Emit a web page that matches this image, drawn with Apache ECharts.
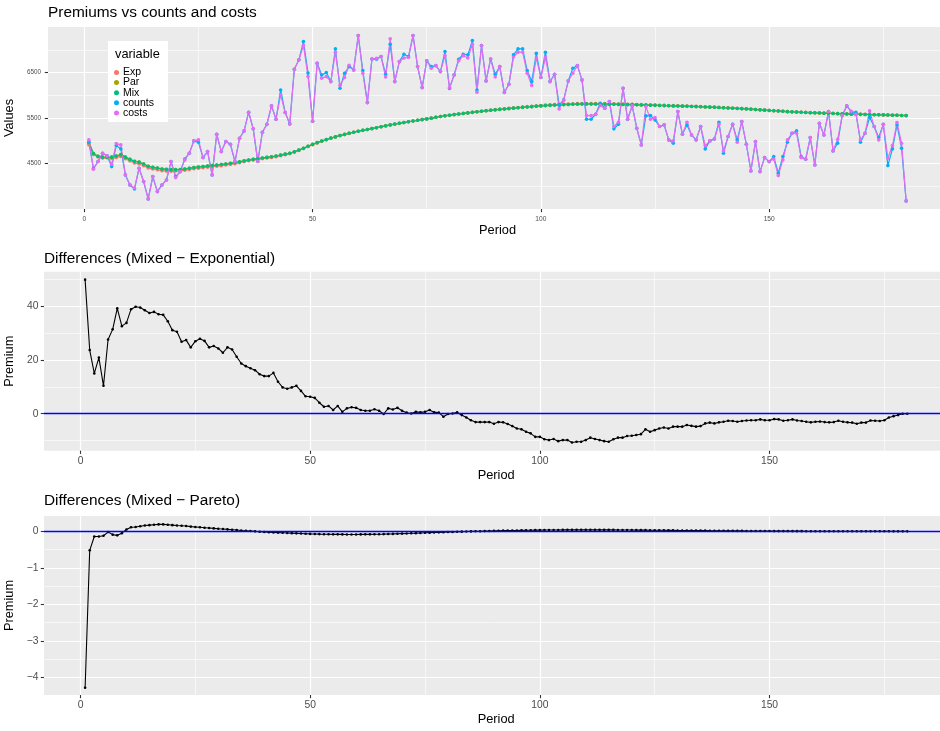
<!DOCTYPE html>
<html><head><meta charset="utf-8">
<script src="https://cdn.jsdelivr.net/npm/echarts@6/dist/echarts.min.js"></script>
<style>html,body{margin:0;padding:0;background:#fff;}#c{width:940px;height:731px;}</style>
</head><body><div id="c"></div>
<script>
const periods = Array.from({length: 180}, (_, i) => i + 1);
const xTicks = [0, 50, 100, 150];
const yTicksTop = [4500, 5500, 6500];
const yTicksMid = [0, 20, 40];
const yTicksBot = [-4, -3, -2, -1, 0];
const refLineValue = 0;
const legendNames = ['Exp', 'Par', 'Mix', 'counts', 'costs'];

const counts = [
4967,4390,4543,4726,4667,4432,4894,4821,4249,4029,
3940,4396,4103,3722,4212,3882,4029,4139,4543,4212,
4322,4600,4726,4997,4967,4630,4762,4249,5143,4762,
4982,4923,4543,5055,5217,5627,5261,4543,5187,5363,
5766,5473,6117,5620,5370,6572,6778,7181,6490,5430,
6704,6447,6498,6300,7019,6153,6484,6630,6557,7313,
6542,5838,6798,6791,6850,6462,7122,6300,6740,6901,
6850,7313,6630,6168,6755,6630,6652,6520,6960,6150,
6447,6791,6901,6887,7202,6117,7093,6315,6798,6462,
6630,6059,6241,6887,7019,7019,6542,6300,6920,6389,
6946,6300,6462,5787,5897,6315,6594,6652,6337,5473,
5473,5583,5824,5715,5861,5261,5363,6153,5473,5766,
5275,4909,5547,5554,5458,5312,5348,5019,4945,5642,
5143,5348,5128,5019,5312,4821,4997,5040,5407,4726,
5092,5363,5019,5422,4923,4337,4982,4322,4630,4542,
4652,4286,4652,4967,5165,5217,4652,4593,5070,4469,
5385,5128,5642,4777,4945,5554,5766,5627,5627,4967,
5165,5510,5312,5070,5363,4454,4821,5348,4835,3678];

const costs = [
5019,4375,4543,4726,4667,4484,4938,4909,4249,4029,
3960,4396,4103,3722,4212,3882,4029,4139,4543,4190,
4322,4579,4726,4997,5019,4630,4762,4249,5143,4762,
4982,4923,4543,5055,5217,5627,5261,4543,5187,5363,
5766,5473,6008,5620,5370,6572,6778,7093,6410,5430,
6704,6374,6410,6300,6946,6220,6390,6660,6557,7313,
6484,5838,6798,6810,6850,6400,7240,6300,6740,6820,
6830,7313,6630,6168,6755,6594,6652,6520,6870,6168,
6447,6760,6870,6820,7120,6066,7093,6315,6798,6400,
6630,6059,6241,6840,6946,6946,6484,6213,6820,6389,
6829,6300,6462,5700,5897,6315,6484,6652,6337,5554,
5554,5583,5773,5715,5861,5312,5407,6153,5473,5766,
5275,4909,5751,5473,5510,5312,5348,5019,4997,5642,
5143,5407,5128,5019,5312,4894,4997,5040,5363,4777,
5092,5363,4967,5422,4923,4337,4982,4322,4630,4542,
4600,4234,4579,5019,5165,5165,4630,4593,5070,4469,
5385,5128,5642,4777,5033,5554,5766,5650,5583,5019,
5165,5656,5312,5019,5363,4616,4894,5399,4945,3678];

const mixPrem = [
4960,4720,4660,4640,4635,4640,4665,4695,4640,4590,
4550,4530,4490,4440,4415,4400,4380,4370,4365,4365,
4368,4380,4395,4412,4424,4434,4444,4454,4465,4477,
4490,4505,4520,4538,4558,4578,4592,4606,4620,4634,
4648,4665,4685,4705,4725,4758,4795,4835,4878,4920,
4958,4992,5025,5058,5085,5115,5140,5164,5188,5210,
5230,5248,5267,5287,5308,5328,5348,5366,5384,5400,
5417,5433,5450,5465,5480,5497,5515,5533,5548,5562,
5575,5588,5600,5612,5624,5636,5647,5658,5669,5679,
5689,5698,5707,5716,5725,5734,5742,5750,5758,5766,
5772,5778,5784,5789,5794,5798,5802,5805,5807,5808,
5808,5807,5806,5805,5803,5801,5799,5797,5795,5793,
5790,5787,5784,5781,5778,5775,5772,5769,5766,5763,
5760,5757,5754,5751,5747,5743,5739,5735,5730,5725,
5720,5715,5710,5705,5700,5693,5686,5679,5672,5665,
5660,5654,5647,5640,5635,5630,5625,5621,5617,5613,
5610,5606,5603,5599,5596,5592,5589,5585,5583,5580,
5578,5575,5573,5570,5568,5565,5562,5559,5556,5553];

const parPrem = [
4964,4721,4660,4640,4635,4640,4665,4695,4640,4590,
4550,4530,4490,4440,4415,4400,4380,4370,4365,4365,
4368,4380,4395,4412,4424,4434,4444,4454,4465,4477,
4490,4505,4520,4538,4558,4578,4592,4606,4620,4634,
4648,4665,4685,4705,4725,4758,4795,4835,4878,4920,
4958,4992,5025,5058,5085,5115,5140,5164,5188,5210,
5230,5248,5267,5287,5308,5328,5348,5366,5384,5400,
5417,5433,5450,5465,5480,5497,5515,5533,5548,5562,
5575,5588,5600,5612,5624,5636,5647,5658,5669,5679,
5689,5698,5707,5716,5725,5734,5742,5750,5758,5766,
5772,5778,5784,5789,5794,5798,5802,5805,5807,5808,
5808,5807,5806,5805,5803,5801,5799,5797,5795,5793,
5790,5787,5784,5781,5778,5775,5772,5769,5766,5763,
5760,5757,5754,5751,5747,5743,5739,5735,5730,5725,
5720,5715,5710,5705,5700,5693,5686,5679,5672,5665,
5660,5654,5647,5640,5635,5630,5625,5621,5617,5613,
5610,5606,5603,5599,5596,5592,5589,5585,5583,5580,
5578,5575,5573,5570,5568,5565,5562,5559,5556,5553];

const expPrem = [
4910,4696,4645,4619,4625,4612,4634,4656,4607,4556,
4511,4490,4451,4402,4378,4362,4343,4333,4331,4334,
4338,4353,4368,4387,4397,4406,4417,4429,4440,4453,
4467,4480,4496,4517,4539,4560,4575,4590,4605,4620,
4634,4650,4673,4695,4716,4748,4785,4827,4872,4914,
4952,4988,5022,5055,5084,5112,5139,5162,5186,5208,
5229,5247,5266,5285,5307,5328,5346,5364,5382,5399,
5417,5433,5449,5465,5479,5496,5515,5533,5549,5562,
5575,5588,5601,5613,5626,5639,5650,5661,5672,5683,
5692,5701,5711,5721,5731,5740,5749,5757,5767,5775,
5782,5788,5793,5799,5804,5808,5813,5815,5817,5818,
5817,5816,5816,5815,5813,5811,5808,5806,5803,5801,
5798,5795,5790,5788,5784,5781,5777,5775,5771,5768,
5765,5761,5759,5756,5752,5747,5742,5739,5733,5728,
5723,5718,5713,5708,5703,5695,5688,5681,5674,5667,
5662,5656,5650,5642,5637,5633,5628,5624,5620,5616,
5613,5609,5606,5602,5599,5595,5592,5588,5587,5583,
5581,5578,5576,5573,5570,5566,5563,5560,5556,5553];

const diffExp = [
49.9,23.7,15.0,20.9,10.4,27.6,31.4,39.2,32.6,33.8,
38.9,39.8,39.5,38.5,37.5,37.9,37.0,36.8,34.4,31.1,
30.5,26.8,27.4,24.7,27.0,27.9,27.1,24.7,25.2,24.3,
22.7,24.7,23.9,21.2,18.7,17.7,16.9,16.2,14.7,14.0,
14.0,15.2,11.9,9.8,9.3,9.8,10.4,8.5,6.5,6.3,
5.9,4.1,2.6,2.9,1.4,2.9,0.7,2.0,2.4,2.2,
1.4,1.1,1.1,1.7,1.1,-0.1,2.0,1.6,2.2,1.1,
0.4,0.1,0.7,0.5,0.7,1.4,0.5,0.4,-1.1,-0.1,
0.1,0.5,-0.5,-1.4,-2.4,-3.1,-3.1,-3.1,-3.1,-3.7,
-3.1,-3.2,-3.8,-4.6,-5.5,-5.8,-6.7,-7.3,-8.6,-8.6,
-9.5,-9.8,-9.4,-10.2,-9.8,-9.8,-10.7,-10.4,-10.4,-9.8,
-8.9,-9.4,-9.8,-10.2,-10.4,-9.5,-8.9,-8.9,-8.3,-8.2,
-7.9,-7.6,-5.8,-6.7,-6.1,-5.5,-5.1,-5.5,-4.8,-4.8,
-4.8,-4.2,-4.5,-4.8,-4.6,-3.6,-3.3,-3.6,-3.2,-3.0,
-2.6,-2.7,-3.0,-2.7,-2.5,-2.4,-2.4,-2.1,-2.4,-2.4,
-2.0,-2.1,-2.6,-2.4,-2.1,-2.5,-2.7,-3.0,-3.2,-3.0,
-2.9,-3.1,-3.2,-3.1,-2.6,-3.0,-3.2,-3.3,-3.7,-3.3,
-3.3,-2.5,-2.6,-2.7,-2.4,-1.4,-0.9,-0.5,0.0,0.0];

const diffPar = [
-4.28,-0.52,-0.14,-0.14,-0.12,-0.02,-0.09,-0.11,-0.05,0.05,
0.11,0.12,0.14,0.16,0.17,0.18,0.19,0.19,0.18,0.17,
0.16,0.155,0.145,0.13,0.12,0.11,0.10,0.09,0.08,0.07,
0.065,0.055,0.045,0.035,0.025,0.018,0.01,0.0,-0.01,-0.02,
-0.025,-0.03,-0.035,-0.04,-0.045,-0.05,-0.055,-0.06,-0.065,-0.07,
-0.073,-0.076,-0.078,-0.08,-0.082,-0.083,-0.084,-0.085,-0.085,-0.085,
-0.084,-0.083,-0.082,-0.08,-0.078,-0.076,-0.073,-0.07,-0.066,-0.062,
-0.058,-0.054,-0.05,-0.045,-0.04,-0.036,-0.032,-0.028,-0.024,-0.02,
-0.016,-0.012,-0.008,-0.005,-0.002,0.001,0.004,0.007,0.01,0.013,
0.016,0.019,0.021,0.023,0.025,0.027,0.029,0.031,0.033,0.034,
0.035,0.036,0.037,0.038,0.039,0.04,0.04,0.041,0.041,0.041,
0.041,0.041,0.04,0.04,0.039,0.039,0.038,0.037,0.036,0.035,
0.034,0.033,0.032,0.031,0.03,0.029,0.028,0.027,0.026,0.025,
0.024,0.023,0.022,0.021,0.02,0.019,0.018,0.017,0.016,0.015,
0.014,0.013,0.012,0.012,0.011,0.01,0.01,0.009,0.008,0.008,
0.007,0.007,0.006,0.006,0.005,0.005,0.005,0.004,0.004,0.004,
0.004,0.003,0.003,0.003,0.003,0.002,0.002,0.002,0.002,0.002,
0.002,0.001,0.001,0.001,0.001,0.001,0.0,0.0,0.0,0.0];

const FONT = '"Liberation Sans", Arial, Helvetica, sans-serif';
const COLORS = {Exp: '#F8766D', Par: '#A3A500', Mix: '#00BF7D', counts: '#00B0F6', costs: '#E76BF3'};
const pts = arr => arr.map((v, i) => [periods[i], v]);
const fmtNum = v => (v < 0 ? '\u2212' + Math.abs(v) : String(v));

function xAxisFor(gridIndex, fontSize, margin, nameGap) {
  return {
    type: 'value', gridIndex, min: -7.95, max: 188.95, minInterval: 50, maxInterval: 50,
    name: 'Period', nameLocation: 'middle', nameGap,
    nameTextStyle: {fontFamily: FONT, fontSize: 12.8, color: '#000'},
    axisLine: {show: false, onZero: false},
    axisTick: {show: true, length: 3.2, customValues: xTicks, lineStyle: {color: '#333333', width: 1.1}},
    axisLabel: {customValues: xTicks, fontFamily: FONT, fontSize, color: '#4D4D4D', margin,
      formatter: v => (xTicks.indexOf(v) >= 0 ? fmtNum(v) : '')},
    splitLine: {show: true, lineStyle: {color: '#FFFFFF', width: 1.2}},
    minorTick: {show: false, splitNumber: 2},
    minorSplitLine: {show: true, lineStyle: {color: '#FFFFFF', width: 0.6}}
  };
}
function yAxisFor(gridIndex, min, max, step, ticks, fontSize, margin, name, nameGap, useInterval) {
  const ax = {
    type: 'value', gridIndex, min, max,
    name, nameLocation: 'middle', nameGap,
    nameTextStyle: {fontFamily: FONT, fontSize: 12.8, color: '#000'},
    axisLine: {show: false, onZero: false},
    axisTick: {show: true, length: 3.2, customValues: ticks, lineStyle: {color: '#333333', width: 1.1}},
    axisLabel: {customValues: ticks, fontFamily: FONT, fontSize, color: '#4D4D4D', margin,
      formatter: v => (ticks.indexOf(v) >= 0 ? fmtNum(v) : '')},
    splitLine: {show: true, lineStyle: {color: '#FFFFFF', width: 1.2}},
    minorTick: {show: false, splitNumber: 2},
    minorSplitLine: {show: true, lineStyle: {color: '#FFFFFF', width: 0.6}}
  };
  if (useInterval) ax.interval = step; else { ax.minInterval = step; ax.maxInterval = step; }
  return ax;
}
function premSeries(name, arr) {
  const c = COLORS[name];
  return {type: 'line', name, xAxisIndex: 0, yAxisIndex: 0, data: pts(arr),
    symbol: 'circle', symbolSize: 3.6, showAllSymbol: true,
    lineStyle: {width: 1.2, color: c}, itemStyle: {color: c},
    emphasis: {disabled: true}, silent: true, z: 3};
}
function diffSeries(idx, arr) {
  return {type: 'line', name: 'diff' + idx, xAxisIndex: idx, yAxisIndex: idx, data: pts(arr),
    symbol: 'circle', symbolSize: 2.6, showAllSymbol: true,
    lineStyle: {width: 1.1, color: '#000'}, itemStyle: {color: '#000'},
    emphasis: {disabled: true}, silent: true, z: 3,
    markLine: {silent: true, symbol: ['none', 'none'], z: 4, label: {show: false},
      itemStyle: {color: '#0000FF'},
      lineStyle: {color: '#0000FF', width: 1.3, type: 'solid', opacity: 1},
      emphasis: {disabled: true},
      data: [{yAxis: refLineValue, lineStyle: {color: '#0000FF'}}]}};
}
const gridBase = {show: true, backgroundColor: '#EBEBEB', borderWidth: 0, containLabel: false, outerBoundsMode: 'none'};

const chart = echarts.init(document.getElementById('c'));
chart.setOption({
  animation: false,
  backgroundColor: '#FFFFFF',
  title: [
    {text: 'Premiums vs counts and costs', left: 48, top: 5, padding: 0,
     textStyle: {fontFamily: FONT, fontSize: 15.4, fontWeight: 'normal', color: '#000'}},
    {text: 'Differences (Mixed \u2212 Exponential)', left: 44, top: 251, padding: 0,
     textStyle: {fontFamily: FONT, fontSize: 15.4, fontWeight: 'normal', color: '#000'}},
    {text: 'Differences (Mixed \u2212 Pareto)', left: 44, top: 493, padding: 0,
     textStyle: {fontFamily: FONT, fontSize: 15.4, fontWeight: 'normal', color: '#000'}}
  ],
  grid: [
    Object.assign({left: 48, top: 27, width: 899, height: 182}, gridBase),
    Object.assign({left: 44, top: 271.7, width: 904.4, height: 179}, gridBase),
    Object.assign({left: 44, top: 516, width: 904.4, height: 179}, gridBase)
  ],
  xAxis: [xAxisFor(0, 6.6, 6.5, 14.5), xAxisFor(1, 10.3, 5.5, 18), xAxisFor(2, 10.3, 5.5, 17.5)],
  yAxis: [
    yAxisFor(0, 3500, 7500, 1000, yTicksTop, 6.3, 7, 'Values', 26, true),
    yAxisFor(1, -13.75, 52.85, 20, yTicksMid, 10.3, 5.5, 'Premium', 21, false),
    yAxisFor(2, -4.48, 0.42, 1, yTicksBot, 10.3, 5.5, 'Premium', 21, false)
  ],
  legend: {
    data: legendNames, orient: 'vertical', left: 114, top: 67, padding: 0,
    itemWidth: 5, itemHeight: 5, itemGap: -0.9, icon: 'circle', selectedMode: false, z: 60,
    textStyle: {fontFamily: FONT, fontSize: 10.5, color: '#000', lineHeight: 9.75, padding: [0, 0, 0, -1]}
  },
  graphic: [
    {type: 'rect', z: 50, silent: true, shape: {x: 108, y: 41, width: 60, height: 81}, style: {fill: '#FFFFFF'}},
    {type: 'text', z: 51, silent: true, x: 115, y: 54,
     style: {text: 'variable', fontFamily: FONT, fontSize: 12.8, fill: '#000', verticalAlign: 'middle'}}
  ],
  series: [
    premSeries('Exp', expPrem),
    premSeries('Par', parPrem),
    premSeries('Mix', mixPrem),
    premSeries('counts', counts),
    premSeries('costs', costs),
    diffSeries(1, diffExp),
    diffSeries(2, diffPar)
  ]
});
</script></body></html>
